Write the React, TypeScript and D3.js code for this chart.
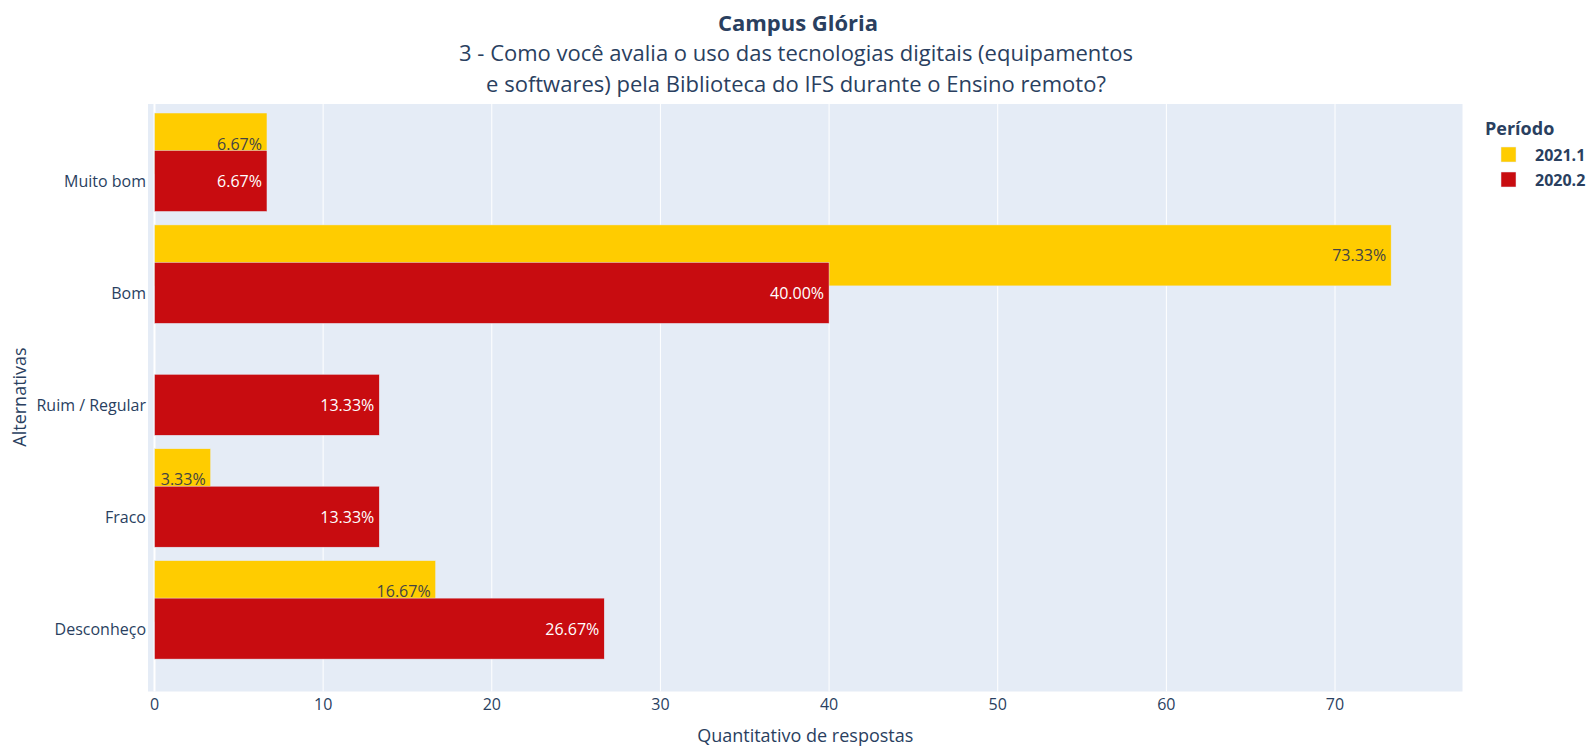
import React from 'react';
import * as d3 from 'd3';

const categories = ['Muito bom', 'Bom', 'Ruim / Regular', 'Fraco', 'Desconheço'];
const values2021: (number | null)[] = [6.67, 73.33, null, 3.33, 16.67];
const values2020: (number | null)[] = [6.67, 40.0, 13.33, 13.33, 26.67];
const xTicks = [0, 10, 20, 30, 40, 50, 60, 70];
const seriesNames = ['2021.1', '2020.2'];
const seriesColors = ['#FFCC00', '#C80C10'];
const seriesTextColors = ['#444444', '#ffffff'];
const titleText = 'Campus Glória';
const subtitleLines = [
  '3 - Como você avalia o uso das tecnologias digitais (equipamentos',
  'e softwares) pela Biblioteca do IFS durante o Ensino remoto?',
];
const xTitle = 'Quantitativo de respostas';
const yTitle = 'Alternativas';
const legendTitle = 'Período';

const W = 1587;
const H = 746;
const FONT = '"Open Sans", verdana, arial, sans-serif';
const TXT = '#2a3f5f';

const plotL = 148;
const plotR = 1462.5;
const plotT = 104;
const plotB = 691.5;

export default function App() {
  const x = d3.scaleLinear().domain([-0.385, 77.56]).range([plotL, plotR]);
  const y = d3.scaleLinear().domain([-0.688, 4.562]).range([plotT, plotB]);
  const half = 0.2725;
  const offsets = [-0.335, 0];
  const fmt = (v: number) => d3.format('.2f')(v) + '%';
  const seriesList = [values2021, values2020];

  return (
    <svg
      width={W}
      height={H}
      style={{ position: 'absolute', left: 0, top: 0, display: 'block', background: '#fff' }}
      fontFamily={FONT}
    >
      <rect x={plotL} y={plotT} width={plotR - plotL} height={plotB - plotT} fill="#E5ECF6" />
      {xTicks.filter((t) => t !== 0).map((t) => (
        <line key={'g' + t} x1={x(t)} x2={x(t)} y1={plotT} y2={plotB} stroke="#fff" strokeWidth={1} />
      ))}
      <line x1={x(0)} x2={x(0)} y1={plotT} y2={plotB} stroke="#fff" strokeWidth={2} />

      {seriesList.map((vals, s) => (
        <g key={'s' + s}>
          {vals.map((v, i) => {
            if (v == null) return null;
            const yc = i + offsets[s];
            const y0 = y(yc - half);
            const y1 = y(yc + half);
            return (
              <g key={i}>
                <rect
                  x={x(0)}
                  y={y0}
                  width={x(v) - x(0)}
                  height={y1 - y0}
                  fill={seriesColors[s]}
                  stroke="#E5ECF6"
                  strokeWidth={0.5}
                />
                <text
                  x={x(v) - 5}
                  y={y(yc)}
                  textAnchor="end"
                  dominantBaseline="central"
                  fontSize={16}
                  fill={seriesTextColors[s]}
                >
                  {fmt(v)}
                </text>
              </g>
            );
          })}
        </g>
      ))}

      {xTicks.map((t) => (
        <text key={'xt' + t} x={x(t)} y={704} textAnchor="middle" dominantBaseline="central" fontSize={16} fill={TXT}>
          {t}
        </text>
      ))}
      {categories.map((c, i) => (
        <text key={'yt' + i} x={146} y={y(i)} textAnchor="end" dominantBaseline="central" fontSize={16} fill={TXT}>
          {c}
        </text>
      ))}

      <text x={(plotL + plotR) / 2} y={734.5} textAnchor="middle" dominantBaseline="central" fontSize={18} fill={TXT}>
        {xTitle}
      </text>
      <text
        transform={`translate(19,397) rotate(-90)`}
        textAnchor="middle"
        dominantBaseline="central"
        fontSize={18}
        fill={TXT}
      >
        {yTitle}
      </text>

      <text x={798} y={30.5} textAnchor="middle" fontSize={22} fontWeight="bold" fill={TXT}>
        {titleText}
      </text>
      {subtitleLines.map((l, i) => (
        <text key={'st' + i} x={796} y={61 + i * 31} textAnchor="middle" fontSize={22} fill={TXT}>
          {l}
        </text>
      ))}

      <text x={1485} y={128} dominantBaseline="central" fontSize={18} fontWeight="bold" fill={TXT}>
        {legendTitle}
      </text>
      {seriesNames.map((n, s) => (
        <g key={'lg' + s}>
          <rect x={1501} y={147 + s * 25} width={15} height={15} fill={seriesColors[s]} stroke="#E5ECF6" strokeWidth={0.5} />
          <text x={1535} y={154.5 + s * 25} dominantBaseline="central" fontSize={16} fontWeight="bold" fill={TXT}>
            {n}
          </text>
        </g>
      ))}
    </svg>
  );
}
